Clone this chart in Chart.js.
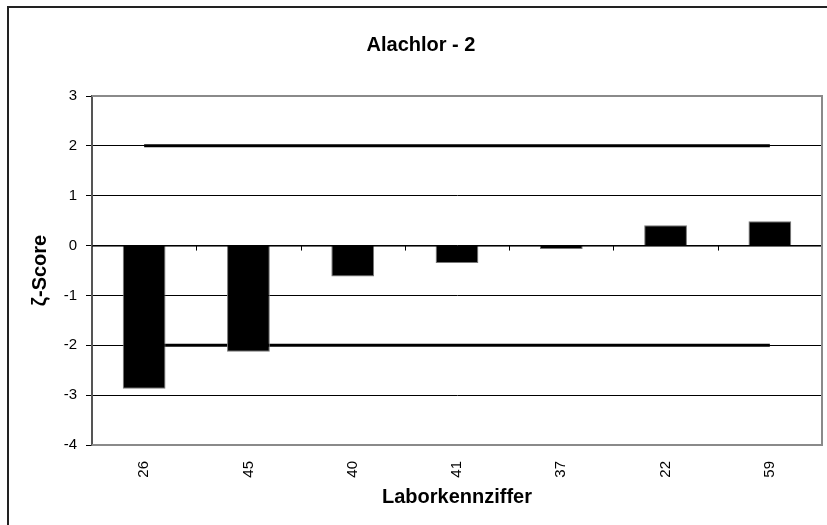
<!DOCTYPE html>
<html>
<head>
<meta charset="utf-8">
<script src="https://cdn.jsdelivr.net/npm/chart.js@4"></script>
<style>
  body { margin: 0; background: #fff; }
  #frame { position: absolute; left: 7px; top: 6px; width: 900px; height: 600px; border: 2px solid #222; }
  #chart { position: absolute; left: 0; top: 0; }
</style>
</head>
<body>
<div id="frame"></div>
<canvas id="chart" width="827" height="525"></canvas>
<script>
// lab codes and their zeta scores
const labs = ['26', '45', '40', '41', '37', '22', '59'];
const zetaScores = [-2.87, -2.13, -0.62, -0.35, -0.07, 0.41, 0.49];
const upperLimit = [2, 2, 2, 2, 2, 2, 2];
const lowerLimit = [-2, -2, -2, -2, -2, -2, -2];

const FONT = '"Liberation Sans", Arial, sans-serif';

// plot frame (gray) + small tick marks on the zero axis, like Excel does
const plotFrame = {
  id: 'plotFrame',
  afterDatasetsDraw(chart) {
    const { ctx, chartArea: a, scales } = chart;
    const x = scales.x;
    const y0 = scales.y.getPixelForValue(0);
    ctx.save();
    ctx.strokeStyle = '#000';
    ctx.lineWidth = 1;
    ctx.beginPath();
    ctx.moveTo(a.left, y0 + 0.5);
    ctx.lineTo(a.right, y0 + 0.5);
    for (let i = 1; i < labs.length; i++) {
      const px = Math.round(x.getPixelForValue(i - 0.5)) + 0.5;
      ctx.moveTo(px, y0);
      ctx.lineTo(px, y0 + 5);
    }
    ctx.stroke();
    ctx.strokeStyle = '#8a8a8a';
    ctx.lineWidth = 2;
    ctx.beginPath();
    ctx.moveTo(a.left, a.top);
    ctx.lineTo(a.right, a.top);
    ctx.lineTo(a.right, a.bottom);
    ctx.lineTo(a.left, a.bottom);
    ctx.stroke();
    ctx.restore();
  }
};

new Chart(document.getElementById('chart'), {
  data: {
    labels: labs,
    datasets: [
      {
        type: 'bar',
        data: zetaScores,
        backgroundColor: '#000',
        borderColor: '#777',
        borderWidth: 1,
        barPercentage: 0.41,
        categoryPercentage: 1,
        order: 0,
      },
      {
        type: 'line',
        data: upperLimit,
        borderColor: '#000',
        borderWidth: 3,
        pointRadius: 0,
        order: 1,
      },
      {
        type: 'line',
        data: lowerLimit,
        borderColor: '#000',
        borderWidth: 3,
        pointRadius: 0,
        order: 1,
      },
    ],
  },
  options: {
    responsive: false,
    animation: false,
    layout: { padding: { left: 20, right: 5, top: 0, bottom: 0 } },
    plugins: {
      legend: { display: false },
      tooltip: { enabled: false },
      title: {
        display: true,
        text: 'Alachlor - 2',
        color: '#000',
        font: { family: FONT, size: 20, weight: 'bold' },
        padding: { top: 33, bottom: 39 },
      },
    },
    scales: {
      x: {
        grid: { display: false },
        border: { display: false },
        ticks: {
          color: '#000',
          font: { family: FONT, size: 15 },
          maxRotation: 90,
          minRotation: 90,
          padding: 8,
        },
        title: {
          display: true,
          text: 'Laborkennziffer',
          color: '#000',
          font: { family: FONT, size: 20, weight: 'bold' },
          padding: { top: 0, bottom: 16 },
        },
        afterFit(scale) { scale.height = 80; },
      },
      y: {
        min: -4,
        max: 3,
        ticks: {
          stepSize: 1,
          color: '#000',
          font: { family: FONT, size: 15 },
          padding: 9,
        },
        grid: { color: '#000', lineWidth: 1, tickLength: 6, tickColor: '#000' },
        border: { color: '#555', width: 2 },
        title: {
          display: true,
          text: 'ζ-Score',
          color: '#000',
          font: { family: FONT, size: 20, weight: 'bold' },
          padding: { top: 8, bottom: 0 },
        },
        afterFit(scale) { scale.width = 72; },
      },
    },
  },
  plugins: [plotFrame],
});
</script>
</body>
</html>
